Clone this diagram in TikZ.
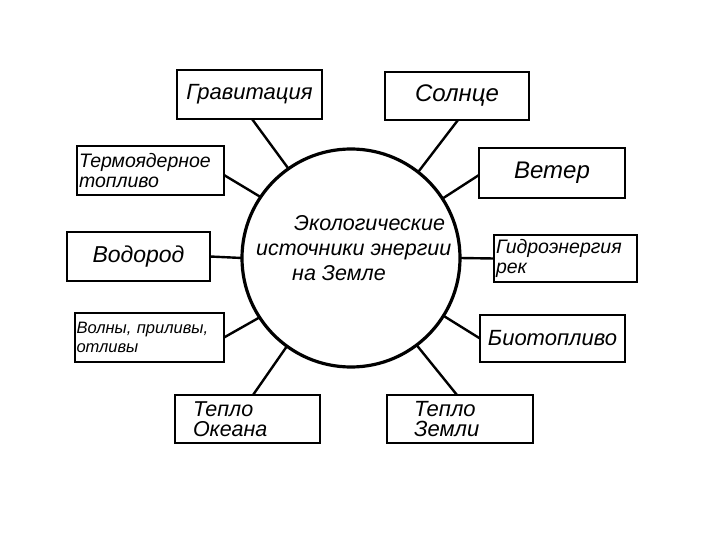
\documentclass[tikz,border=0pt]{standalone}
\usepackage{fontspec}
\setmainfont{Liberation Sans}
\begin{document}
\begin{tikzpicture}[x=1pt,y=-1pt,
  box/.style={draw,line width=2.6pt,inner sep=0pt,outer sep=0pt,align=center,font=\itshape\fontsize{22}{24}\selectfont},
  lbox/.style={draw,line width=2.6pt,inner xsep=#1,inner ysep=0pt,outer sep=0pt,align=left,font=\itshape\fontsize{18.5}{19}\selectfont},
  lbox/.default=2pt,
  conn/.style={line width=2.4pt}]
\useasboundingbox (0,0) rectangle (720,540);
\fill[white] (0,0) rectangle (720,540);
\node[draw,circle,line width=3.2pt,minimum size=218pt,inner sep=0pt,outer sep=0pt] (c) at (351,258) {};
\node[font=\itshape\fontsize{21.5}{25}\selectfont,align=left,anchor=west,inner sep=0pt] (ct) at (256,248) {\hspace*{38pt}Экологические\\источники энергии\\\hspace*{36pt}на Земле};
\node[box,minimum width=145pt,minimum height=49pt] (grav) at (249.5,94.5) {Гравитация};
\node[box,minimum width=144pt,minimum height=48pt,font=\itshape\fontsize{24}{24}\selectfont] (sun) at (457,96) {Солнце};
\node[box,minimum width=146pt,minimum height=50pt,font=\itshape\fontsize{24}{24}\selectfont] (wind) at (552,173) {Ветер};
\node[box,minimum width=143pt,minimum height=49pt,font=\itshape\fontsize{23}{24}\selectfont] (hyd) at (138.5,256.5) {Водород};
\node[box,minimum width=145pt,minimum height=47pt] (bio) at (552.5,338.5) {Биотопливо};
\node[lbox,text width=143pt,minimum height=49pt,font=\itshape\fontsize{19.5}{20}\selectfont] (term) at (150.5,170.5) {Термоядерное\\топливо};
\node[lbox=1.5pt,text width=146pt,minimum height=49pt,font=\itshape\fontsize{16.5}{19}\selectfont] (waves) at (149.5,337.5) {Волны, приливы,\\отливы};
\node[lbox,text width=139pt,minimum height=47pt,font=\itshape\fontsize{19.5}{20}\selectfont] (river) at (565.5,258.5) {Гидроэнергия\\рек};
\node[lbox=18pt,text width=109pt,minimum height=48pt,font=\itshape\fontsize{21.5}{20}\selectfont] (ocean) at (247.5,419) {Тепло\\Океана};
\node[lbox=27pt,text width=92pt,minimum height=48pt,font=\itshape\fontsize{22}{20}\selectfont] (earth) at (460,419) {Тепло\\Земли};
\draw[conn] ([xshift=2.5pt]grav.south) -- (c.125);
\draw[conn] ([yshift=-4.5pt]term.east) -- (c.146);
\draw[conn] ([xshift=1pt]sun.south) -- (c.52);
\draw[conn] ([yshift=-2pt]wind.west) -- (c.33);
\draw[conn] (hyd.east) -- (c.180);
\draw[conn] (river.west) -- (c.0);
\draw[conn] (waves.east) -- (c.213);
\draw[conn] (bio.west) -- (c.328);
\draw[conn] ([xshift=5.5pt]ocean.north) -- (c.234);
\draw[conn] ([xshift=-3pt]earth.north) -- (c.307);
\end{tikzpicture}
\end{document}
